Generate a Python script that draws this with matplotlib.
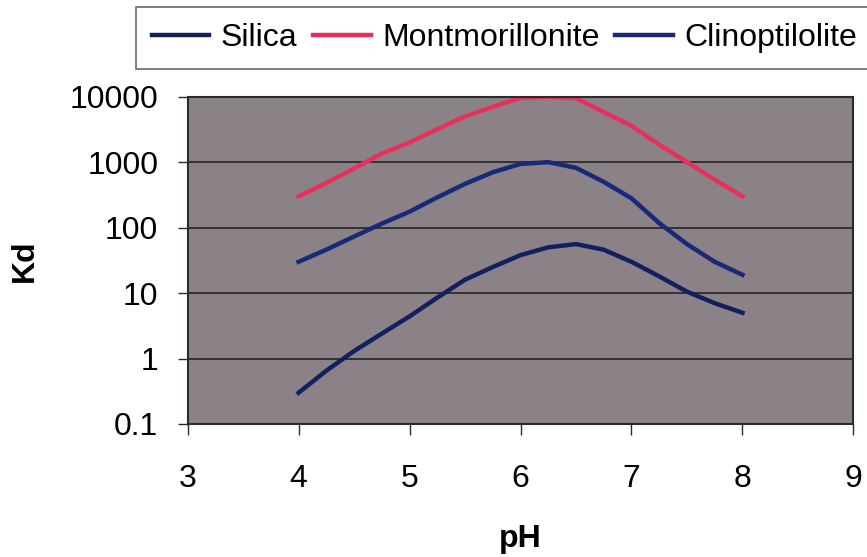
import matplotlib
matplotlib.use("Agg")
import matplotlib.pyplot as plt
from matplotlib.ticker import FixedLocator, FixedFormatter

plt.rcParams["font.family"] = ["Liberation Sans", "DejaVu Sans"]

ph = [4.0, 4.25, 4.5, 4.75, 5.0, 5.25, 5.5, 5.75, 6.0,
      6.25, 6.5, 6.75, 7.0, 7.25, 7.5, 7.75, 8.0]

silica = [0.30, 0.65, 1.3, 2.4, 4.4, 8.5, 16, 25, 38,
          50, 56, 46, 30, 18, 10.5, 7, 5]
montmorillonite = [300, 480, 800, 1350, 2000, 3200, 5000, 7000, 9600,
                   10000, 9500, 5800, 3600, 1850, 1000, 540, 300]
clinoptilolite = [30, 46, 73, 115, 175, 290, 465, 700, 940,
                  1000, 820, 500, 280, 117, 56, 30, 19]

y_ticks = [0.1, 1, 10, 100, 1000, 10000]
y_tick_labels = ["0.1", "1", "10", "100", "1000", "10000"]
x_ticks = [3, 4, 5, 6, 7, 8, 9]

fig = plt.figure(figsize=(8.67, 5.57), dpi=100)
ax = fig.add_axes([0.2163, 0.2388, 0.7681, 0.5876])
ax.set_facecolor("#8b8287")

ax.plot(ph, silica, color="#14205e", lw=3.2, label="Silica", solid_joinstyle="round")
ax.plot(ph, montmorillonite, color="#e8305c", lw=3.2, label="Montmorillonite", solid_joinstyle="round")
ax.plot(ph, clinoptilolite, color="#1a2878", lw=3.2, label="Clinoptilolite", solid_joinstyle="round")

ax.set_yscale("log")
ax.set_ylim(0.1, 10000)
ax.set_xlim(3, 9)
ax.yaxis.set_major_locator(FixedLocator(y_ticks))
ax.yaxis.set_major_formatter(FixedFormatter(y_tick_labels))
ax.yaxis.set_minor_locator(FixedLocator([]))
ax.set_xticks(x_ticks)

ax.grid(axis="y", color="#2e2a2c", lw=1.3)
ax.set_axisbelow(True)
for s in ax.spines.values():
    s.set_color("#2a2a2a")
    s.set_linewidth(1.5)

ax.tick_params(axis="x", direction="out", length=8, width=1, pad=21, labelsize=23, colors="#2a2a2a", labelcolor="black")
ax.tick_params(axis="y", direction="out", length=7, width=1, pad=14, labelsize=23, colors="#2a2a2a", labelcolor="black")

ax.set_xlabel("pH", fontsize=23, fontweight="bold")
ax.set_ylabel("Kd", fontsize=23, fontweight="bold")
ax.xaxis.set_label_coords(0.5, -0.305)
ax.yaxis.set_label_coords(-0.222, 0.5)

leg = fig.legend(loc="upper left", bbox_to_anchor=(136 / 867, 1 - 7 / 557), ncol=3,
                 fontsize=23, frameon=True, fancybox=False, handlelength=1.8,
                 handletextpad=0.35, columnspacing=0.5, borderpad=0.5, borderaxespad=0)
leg.get_frame().set_edgecolor("#444444")
leg.get_frame().set_linewidth(1.2)

fig.savefig("out.png", dpi=100)
